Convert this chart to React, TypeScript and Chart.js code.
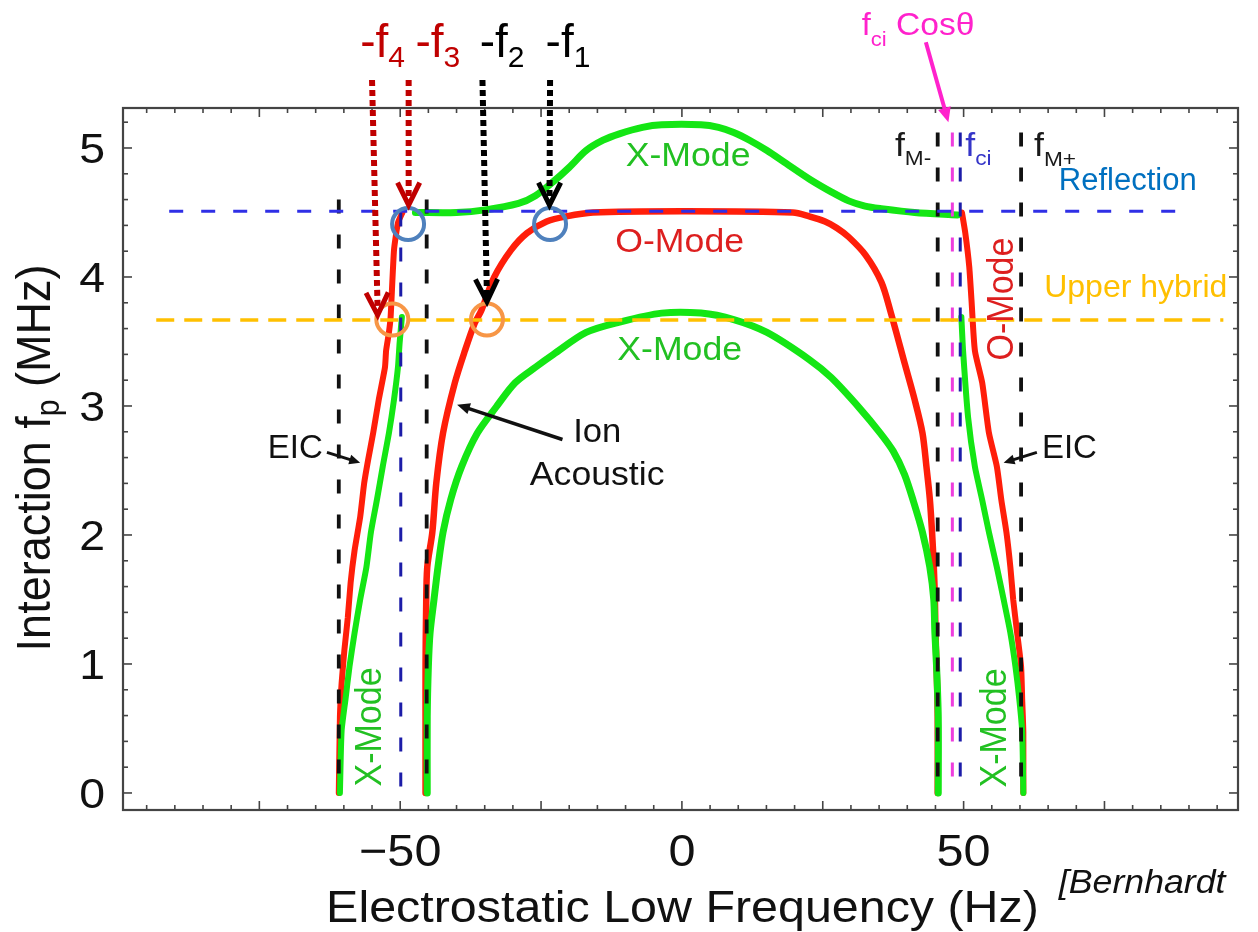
import React, { useEffect, useRef } from 'react';
import { Chart, registerables } from 'chart.js';
Chart.register(...registerables);

const W = 1258;
const H = 932;
const FONT = "'Liberation Sans', Arimo, Arial, Helvetica, sans-serif";

// ---- axes ----
const xLimits = [-99.2, 98.7];
const yLimits = [-0.132, 5.31];
const xMajorTicks = [-75, -50, -25, 0, 25, 50, 75];
const xMinorTicks = [-95, -90, -85, -80, -70, -65, -60, -55, -45, -40, -35, -30, -20, -15, -10, -5, 5, 10, 15, 20, 30, 35, 40, 45, 55, 60, 65, 70, 80, 85, 90, 95];
const xTickLabelValues = [-50, 0, 50];
const xTickLabels = ['\u221250', '0', '50'];
const yMajorTicks = [0, 1, 2, 3, 4, 5];
const yMinorTicks = [0.2, 0.4, 0.6, 0.8, 1.2, 1.4, 1.6, 1.8, 2.2, 2.4, 2.6, 2.8, 3.2, 3.4, 3.6, 3.8, 4.2, 4.4, 4.6, 4.8, 5.2];
const yTickLabels = ['0', '1', '2', '3', '4', '5'];
const xTitle = 'Electrostatic Low Frequency (Hz)';

// ---- dispersion curves (Hz, MHz) ----
const xModeUpper: [number, number][] = [[-47.3, 4.5], [-40, 4.5], [-34.9, 4.52], [-29.0, 4.57], [-26.0, 4.63], [-22.8, 4.74], [-20.0, 4.85], [-17.0, 4.98], [-14.0, 5.06], [-11.1, 5.11], [-7.0, 5.16], [-3.6, 5.18], [3.4, 5.18], [6.5, 5.16], [9.2, 5.12], [12.0, 5.06], [15.1, 4.98], [18.5, 4.88], [22.6, 4.76], [26.5, 4.66], [29.6, 4.59], [32.5, 4.55], [35.4, 4.53], [41.3, 4.5], [48.9, 4.48]];
const oModeInner: [number, number][] = [[-45.5, 0], [-45.5, 0.59], [-45.5, 0.98], [-45.4, 1.42], [-45.2, 1.75], [-44.3, 2.02], [-43.6, 2.4], [-42.4, 2.79], [-40.3, 3.18], [-38.5, 3.43], [-36.8, 3.64], [-35.6, 3.74], [-33.3, 4.0], [-30.3, 4.21], [-27.5, 4.34], [-24.0, 4.43], [-20.5, 4.47], [-15.8, 4.5], [0, 4.51], [19.7, 4.5], [22.6, 4.47], [25.4, 4.43], [27.5, 4.38], [29.6, 4.31], [32.6, 4.17], [35.4, 3.96], [37.1, 3.72], [39.6, 3.32], [41.3, 3.05], [42.7, 2.79], [43.4, 2.53], [44.0, 2.28], [44.4, 2.02], [44.7, 1.76], [44.9, 1.51], [45.0, 1.25], [45.2, 0.98], [45.4, 0.59], [45.4, 0]];
const xModeInner: [number, number][] = [[-45.2, 0], [-45.2, 0.59], [-45.0, 0.98], [-44.7, 1.24], [-44.0, 1.5], [-43.3, 1.75], [-42.4, 2.02], [-41.0, 2.28], [-39.1, 2.53], [-36.3, 2.79], [-33.0, 2.99], [-29.6, 3.18], [-26.0, 3.3], [-22.8, 3.4], [-17.0, 3.57], [-11.1, 3.65], [-3.6, 3.72], [3.4, 3.72], [9.2, 3.67], [15.1, 3.57], [22.6, 3.36], [26.5, 3.22], [31.6, 2.98], [35.2, 2.79], [37.5, 2.65], [39.5, 2.47], [41.1, 2.26], [42.7, 2.02], [44.0, 1.75], [44.7, 1.5], [44.9, 1.24], [45.2, 0.98], [45.5, 0.59], [45.5, 0]];
const eicLeftRed: [number, number][] = [[-49.6, 4.5], [-50.4, 4.42], [-51.1, 4.21], [-51.7, 3.69], [-52.0, 3.57], [-52.5, 3.43], [-52.7, 3.3], [-53.8, 3.05], [-54.8, 2.79], [-55.7, 2.58], [-56.4, 2.4], [-57.1, 2.14], [-58.1, 1.88], [-58.8, 1.63], [-59.3, 1.36], [-59.9, 1.11], [-60.4, 0.85], [-60.7, 0.59], [-60.9, 0]];
const xModeLeftOuter: [number, number][] = [[-49.7, 3.69], [-50.1, 3.49], [-50.4, 3.3], [-51.1, 3.05], [-52.0, 2.79], [-53.1, 2.53], [-54.1, 2.28], [-55.2, 2.02], [-56.0, 1.75], [-57.1, 1.5], [-58.1, 1.24], [-59.0, 0.98], [-59.7, 0.73], [-60.4, 0.48], [-60.7, 0]];
const xModeRightOuter: [number, number][] = [[49.6, 3.69], [49.9, 3.43], [50.8, 2.91], [52.0, 2.53], [53.3, 2.27], [54.5, 2.02], [55.9, 1.75], [57.1, 1.5], [58.3, 1.24], [59.2, 0.98], [59.9, 0.72], [60.4, 0.47], [60.6, 0]];
const oModeRightOuter: [number, number][] = [[49.7, 4.5], [50.3, 4.34], [51.0, 4.08], [51.4, 3.82], [52.0, 3.43], [53.3, 3.18], [54.5, 2.79], [55.9, 2.53], [56.7, 2.27], [57.6, 2.02], [58.3, 1.75], [58.8, 1.5], [59.5, 1.24], [60.2, 0.98], [60.4, 0.72], [60.6, 0.47], [60.6, 0]];

// ---- reference lines ----
const reflectionLevel = 4.51;
const reflectionSpan = [-91, 90.5];
const upperHybridLevel = 3.667;
const upperHybridSpan = [-93.3, 96.1];
const blackVerticals: [number, number][] = [[-60.9, 4.6], [-45.3, 4.6], [45.4, 5.12], [60.2, 5.12]];
const blueVerticals: [number, number][] = [[-49.9, 4.5], [49.4, 5.12]];
const magentaVerticals: [number, number][] = [[48.0, 5.12]];

// ---- markers ----
const reflectionHits: [number, number][] = [[-48.6, 4.41], [-23.4, 4.41]];
const upperHybridHits: [number, number][] = [[-51.4, 3.67], [-34.6, 3.67]];

// ---- arrows ----
const dottedArrows = [
  { sub: '4', color: '#c00000', from: [-55.0, 5.527], to: [-54.0, 3.705], label: [-57.1, 5.705] },
  { sub: '3', color: '#c00000', from: [-48.5, 5.527], to: [-48.5, 4.558], label: [-47.3, 5.705] },
  { sub: '2', color: '#000000', from: [-35.4, 5.527], to: [-34.6, 3.809], label: [-35.9, 5.705] },
  { sub: '1', color: '#000000', from: [-23.4, 5.527], to: [-23.5, 4.558], label: [-24.2, 5.705] },
];
const solidArrows = [
  { from: [-21.2, 2.74], to: [-39.9, 3.01], color: '#111111', width: 3.5, head: 14 },
  { from: [-63.0, 2.64], to: [-57.1, 2.56], color: '#111111', width: 3, head: 12 },
  { from: [63.0, 2.64], to: [57.1, 2.56], color: '#111111', width: 3, head: 12 },
  { from: [43.3, 5.82], to: [47.3, 5.2], color: '#ff22cc', width: 4, head: 16 },
];

const GREEN = '#14e614';
const RED = '#ff1e0a';
const GREEN_TXT = '#22c022';
const RED_TXT = '#dd1f1f';

type Run = { t: string; size: number; dy?: number };
type Opt = { align?: 'left' | 'center' | 'right'; sx?: number; sy?: number; rot?: number; italic?: boolean };

function drawRuns(ctx: CanvasRenderingContext2D, runs: Run[], x: number, y: number, color: string, o: Opt = {}) {
  ctx.save();
  ctx.fillStyle = color;
  ctx.textBaseline = 'alphabetic';
  ctx.textAlign = 'left';
  const fontOf = (r: Run) => `${o.italic ? 'italic ' : ''}${r.size}px ${FONT}`;
  let total = 0;
  const widths: number[] = [];
  for (const r of runs) {
    ctx.font = fontOf(r);
    const w = ctx.measureText(r.t).width;
    widths.push(w);
    total += w;
  }
  ctx.translate(x, y);
  if (o.rot) ctx.rotate(o.rot);
  ctx.scale(o.sx || 1, o.sy || 1);
  let cx = o.align === 'center' ? -total / 2 : o.align === 'right' ? -total : 0;
  runs.forEach((r, i) => {
    ctx.font = fontOf(r);
    ctx.fillText(r.t, cx, r.dy || 0);
    cx += widths[i];
  });
  ctx.restore();
}

function head(ctx: CanvasRenderingContext2D, x0: number, y0: number, x1: number, y1: number, len: number, filled: boolean) {
  const a = Math.atan2(y1 - y0, x1 - x0);
  const h = filled ? 0.42 : 0.46;
  ctx.beginPath();
  ctx.moveTo(x1 - len * Math.cos(a - h), y1 - len * Math.sin(a - h));
  ctx.lineTo(x1, y1);
  ctx.lineTo(x1 - len * Math.cos(a + h), y1 - len * Math.sin(a + h));
  if (filled) {
    ctx.closePath();
    ctx.fill();
  } else {
    ctx.stroke();
  }
}

const annotate = {
  id: 'annotate',
  beforeDatasetsDraw(chart: any) {
    const { ctx, chartArea: ca, scales } = chart;
    const xs = scales.x;
    const ys = scales.y;
    ctx.save();
    ctx.strokeStyle = '#444444';
    ctx.lineWidth = 1.6;
    const tick = (x0: number, y0: number, x1: number, y1: number) => {
      ctx.beginPath();
      ctx.moveTo(x0, y0);
      ctx.lineTo(x1, y1);
      ctx.stroke();
    };
    xMajorTicks.forEach((v) => {
      const x = xs.getPixelForValue(v);
      tick(x, ca.bottom, x, ca.bottom - 9);
      tick(x, ca.top, x, ca.top + 9);
    });
    xMinorTicks.forEach((v) => {
      const x = xs.getPixelForValue(v);
      tick(x, ca.bottom, x, ca.bottom - 5);
      tick(x, ca.top, x, ca.top + 5);
    });
    yMajorTicks.forEach((v) => {
      const y = ys.getPixelForValue(v);
      tick(ca.left, y, ca.left + 9, y);
      tick(ca.right, y, ca.right - 9, y);
    });
    yMinorTicks.forEach((v) => {
      const y = ys.getPixelForValue(v);
      tick(ca.left, y, ca.left + 5, y);
      tick(ca.right, y, ca.right - 5, y);
    });
    ctx.lineWidth = 2.2;
    ctx.strokeRect(ca.left, ca.top, ca.right - ca.left, ca.bottom - ca.top);
    ctx.restore();

    yMajorTicks.forEach((v, i) => {
      drawRuns(ctx, [{ t: yTickLabels[i], size: 43 }], ca.left - 18, ys.getPixelForValue(v) + 15.5, '#111', { align: 'right', sx: 1.08 });
    });
    xTickLabelValues.forEach((v, i) => {
      drawRuns(ctx, [{ t: xTickLabels[i], size: 45 }], xs.getPixelForValue(v), ca.bottom + 56, '#111', { align: 'center', sx: 1.08 });
    });
    drawRuns(ctx, [{ t: xTitle, size: 44 }], (ca.left + ca.right) / 2 + 2, ca.bottom + 112, '#111', { align: 'center', sx: 1.1 });
    drawRuns(
      ctx,
      [{ t: 'Interaction f', size: 45 }, { t: 'p', size: 30, dy: 8 }, { t: ' (MHz)', size: 45 }],
      50,
      (ca.top + ca.bottom) / 2 - 1,
      '#111',
      { align: 'center', rot: -Math.PI / 2, sy: 1.08 }
    );
  },
  afterDatasetsDraw(chart: any) {
    const { ctx, scales } = chart;
    const X = (v: number) => scales.x.getPixelForValue(v);
    const Y = (v: number) => scales.y.getPixelForValue(v);

    dottedArrows.forEach((a) => {
      const x0 = X(a.from[0]), y0 = Y(a.from[1]), x1 = X(a.to[0]), y1 = Y(a.to[1]);
      ctx.save();
      ctx.strokeStyle = a.color;
      ctx.lineWidth = 6;
      ctx.setLineDash([6, 4]);
      ctx.beginPath();
      ctx.moveTo(x0, y0);
      ctx.lineTo(x1, y1 - 4);
      ctx.stroke();
      ctx.setLineDash([]);
      ctx.lineWidth = 5;
      ctx.lineJoin = 'miter';
      head(ctx, x0, y0, x1, y1, 25, false);
      ctx.restore();
      drawRuns(ctx, [{ t: '-f', size: 46 }, { t: a.sub, size: 30, dy: 10 }], X(a.label[0]), Y(a.label[1]), a.color);
    });

    solidArrows.forEach((a) => {
      const x0 = X(a.from[0]), y0 = Y(a.from[1]), x1 = X(a.to[0]), y1 = Y(a.to[1]);
      ctx.save();
      ctx.strokeStyle = a.color;
      ctx.fillStyle = a.color;
      ctx.lineWidth = a.width;
      const ang = Math.atan2(y1 - y0, x1 - x0);
      ctx.beginPath();
      ctx.moveTo(x0, y0);
      ctx.lineTo(x1 - Math.cos(ang) * a.head * 0.6, y1 - Math.sin(ang) * a.head * 0.6);
      ctx.stroke();
      head(ctx, x0, y0, x1, y1, a.head, true);
      ctx.restore();
    });

    const mk = (t: string, size = 33) => [{ t, size }];
    drawRuns(ctx, mk('X-Mode'), X(1.1), Y(4.86), GREEN_TXT, { align: 'center', sx: 1.08 });
    drawRuns(ctx, mk('O-Mode'), X(-0.4), Y(4.194), RED_TXT, { align: 'center', sx: 1.08 });
    drawRuns(ctx, mk('X-Mode'), X(-0.4), Y(3.357), GREEN_TXT, { align: 'center', sx: 1.08 });
    drawRuns(ctx, mk('EIC'), X(-73.5), Y(2.597), '#111');
    drawRuns(ctx, mk('EIC'), X(63.9), Y(2.597), '#111');
    drawRuns(ctx, mk('Ion'), X(-19.3), Y(2.721), '#111', { sx: 1.05 });
    drawRuns(ctx, mk('Acoustic'), X(-27.0), Y(2.388), '#111', { sx: 1.08 });
    drawRuns(ctx, mk('X-Mode', 34), X(-53.4), Y(0.512), GREEN_TXT, { align: 'center', rot: -Math.PI / 2, sy: 1.08 });
    drawRuns(ctx, mk('X-Mode', 34), X(57.6), Y(0.504), GREEN_TXT, { align: 'center', rot: -Math.PI / 2, sy: 1.08 });
    drawRuns(ctx, mk('O-Mode', 34), X(58.8), Y(3.829), RED_TXT, { align: 'center', rot: -Math.PI / 2, sy: 1.08 });

    drawRuns(ctx, [{ t: 'f', size: 31 }, { t: 'ci', size: 21, dy: 11 }, { t: ' Cos\u03b8', size: 32 }], X(31.9), Y(5.876), '#ff22cc', { sx: 1.05 });
    drawRuns(ctx, [{ t: 'f', size: 33 }, { t: 'M-', size: 21, dy: 9 }], X(37.8), Y(4.938), '#1a1a1a', { sx: 1.08 });
    drawRuns(ctx, [{ t: 'f', size: 33 }, { t: 'ci', size: 21, dy: 9 }], X(50.3), Y(4.938), '#3535c8', { sx: 1.08 });
    drawRuns(ctx, [{ t: 'f', size: 33 }, { t: 'M+', size: 21, dy: 10 }], X(62.5), Y(4.938), '#1a1a1a', { sx: 1.08 });
    drawRuns(ctx, mk('Reflection', 31), X(66.9), Y(4.674), '#0070c0');
    drawRuns(ctx, mk('Upper hybrid', 32), X(64.3), Y(3.845), '#ffc000');
    drawRuns(ctx, mk('[Bernhardt', 34), X(66.9), Y(-0.775), '#111', { italic: true, sx: 1.05 });
  },
};

const pts = (a: [number, number][]) => a.map(([x, y]) => ({ x, y }));

function lineDs(data: [number, number][], color: string, width: number, dash?: number[], tension = 0) {
  return {
    data: pts(data),
    borderColor: color,
    backgroundColor: color,
    borderWidth: width,
    borderDash: dash || [],
    borderCapStyle: dash ? 'butt' : 'round',
    borderJoinStyle: 'round',
    pointRadius: 0,
    pointHoverRadius: 0,
    tension,
    fill: false,
  };
}

function markerDs(data: [number, number][], color: string) {
  return {
    data: pts(data),
    showLine: false,
    pointRadius: 16,
    pointHoverRadius: 16,
    pointBorderWidth: 4,
    pointBorderColor: color,
    pointBackgroundColor: 'rgba(0,0,0,0)',
    borderColor: color,
    backgroundColor: 'rgba(0,0,0,0)',
  };
}

export default function App() {
  const ref = useRef<HTMLCanvasElement | null>(null);
  useEffect(() => {
    if (!ref.current) return;
    const vertDash = [14, 21];
    const datasets: any[] = [
      markerDs(reflectionHits, '#4f81bd'),
      markerDs(upperHybridHits, '#f79646'),
      lineDs([[reflectionSpan[0], reflectionLevel], [reflectionSpan[1], reflectionLevel]], '#2f2fe6', 3, [14, 18]),
      lineDs([[upperHybridSpan[0], upperHybridLevel], [upperHybridSpan[1], upperHybridLevel]], '#ffc000', 3.5, [18, 10]),
      ...blackVerticals.map(([x, top]) => lineDs([[x, top], [x, 0]], '#111111', 3.8, vertDash)),
      ...blueVerticals.map(([x, top]) => lineDs([[x, top], [x, 0]], '#1c1ca8', 3, vertDash)),
      ...magentaVerticals.map(([x, top]) => lineDs([[x, top], [x, 0]], '#ee3ddd', 3, vertDash)),
      lineDs(xModeUpper, GREEN, 7, undefined, 0.3),
      lineDs(xModeInner, GREEN, 7, undefined, 0.3),
      lineDs(xModeLeftOuter, GREEN, 6, undefined, 0.2),
      lineDs(xModeRightOuter, GREEN, 6, undefined, 0.2),
      lineDs(oModeInner, RED, 6.5, undefined, 0.3),
      lineDs(eicLeftRed, RED, 6, undefined, 0.15),
      lineDs(oModeRightOuter, RED, 6, undefined, 0.2),
    ];
    const chart = new Chart(ref.current, {
      type: 'line',
      data: { datasets },
      options: {
        responsive: false,
        animation: false,
        devicePixelRatio: 1,
        events: [],
        layout: { padding: { left: 123, top: 108, right: 3, bottom: 122 } },
        plugins: { legend: { display: false }, tooltip: { enabled: false } },
        scales: {
          x: { type: 'linear', min: xLimits[0], max: xLimits[1], display: false },
          y: { type: 'linear', min: yLimits[0], max: yLimits[1], display: false },
        },
      },
      plugins: [annotate],
    } as any);
    return () => chart.destroy();
  }, []);
  return (
    <div style={{ position: 'absolute', left: 0, top: 0, width: W, height: H, background: '#fff' }}>
      <canvas ref={ref} width={W} height={H} style={{ display: 'block', width: W, height: H }} />
    </div>
  );
}
